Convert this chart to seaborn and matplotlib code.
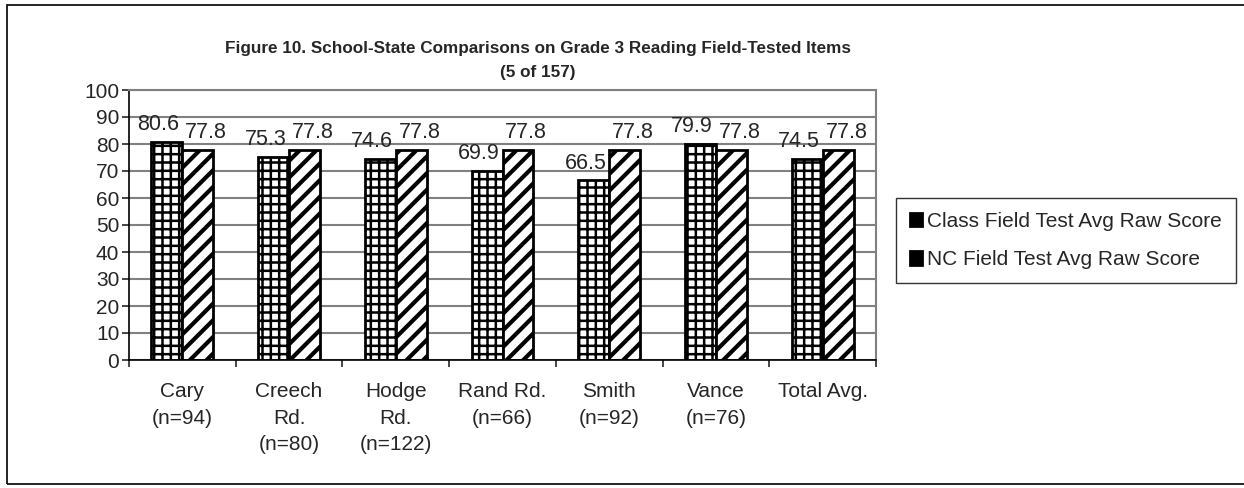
import numpy as np
import pandas as pd
import matplotlib
matplotlib.use('Agg')
import matplotlib.pyplot as plt
import seaborn as sns

# data
schools = ['Cary\n(n=94)', 'Creech\nRd.\n(n=80)', 'Hodge\nRd.\n(n=122)', 'Rand Rd.\n(n=66)',
           'Smith\n(n=92)', 'Vance\n(n=76)', 'Total Avg.']
class_avg = [80.6, 75.3, 74.6, 69.9, 66.5, 79.9, 74.5]
nc_avg = [77.8, 77.8, 77.8, 77.8, 77.8, 77.8, 77.8]
series = ['Class Field Test Avg Raw Score', 'NC Field Test Avg Raw Score']

df = pd.DataFrame({
    'school': schools * 2,
    'score': class_avg + nc_avg,
    'series': [series[0]] * len(schools) + [series[1]] * len(schools),
})

sns.set_style('white')
plt.rcParams['font.family'] = ['Liberation Sans', 'DejaVu Sans']
plt.rcParams['hatch.linewidth'] = 2.0

W, H = 1244, 488
fig = plt.figure(figsize=(W / 100, H / 100), dpi=100)
# plot area in pixels: x 129..876, y 90..360
ax = fig.add_axes([129 / W, 1 - 360 / H, 747 / W, 270 / H])

sns.barplot(data=df, x='school', y='score', hue='series', order=schools, hue_order=series,
            palette=['white', 'white'], width=0.58, gap=0, edgecolor='black', linewidth=2,
            saturation=1, ax=ax, legend=True)

hatches = ['++', '//']
hatch_lw = [1.8, 3.0]
shifts = [-6, 6]
for cont, h, hl, dx in zip(ax.containers, hatches, hatch_lw, shifts):
    for bar in cont:
        bar.set_hatch(h)
        bar.set_edgecolor('black')
        if hasattr(bar, 'set_hatch_linewidth'):
            bar.set_hatch_linewidth(hl)
    labels = ax.bar_label(cont, fmt='%.1f', padding=5, fontsize=15.5)
    for t in labels:
        t.xyann = (dx, t.xyann[1])

ax.set_ylim(0, 100)
ax.set_yticks(range(0, 101, 10))
ax.yaxis.grid(True, color='#808080', linewidth=1.5)
ax.set_axisbelow(True)
ax.set_xlabel('')
ax.set_ylabel('')
ax.set_xlim(-0.5, len(schools) - 0.5)
ax.set_xticks(np.arange(-0.5, len(schools)), minor=True)
ax.tick_params(axis='y', labelsize=15, direction='out', length=5, width=1.2, left=True, pad=2)
ax.tick_params(axis='x', which='major', labelsize=15, length=0, pad=16)
ax.tick_params(axis='x', which='minor', direction='out', length=5, width=1.2, bottom=True)
for t in ax.get_xticklabels():
    t.set_linespacing(1.5)
for s in ['top', 'right']:
    ax.spines[s].set_color('#808080')
    ax.spines[s].set_linewidth(1.5)
for s in ['left', 'bottom']:
    ax.spines[s].set_color('black')
    ax.spines[s].set_linewidth(1.2)

leg = ax.legend(loc='upper left', bbox_to_anchor=(896 / W, 1 - 198 / H),
                bbox_transform=fig.transFigure, frameon=True, fancybox=False,
                edgecolor='black', fontsize=15, handlelength=0.6, handleheight=0.6,
                handletextpad=0.25, borderpad=0.65, borderaxespad=0, labelspacing=0.95)
leg.get_frame().set_linewidth(1)
for p in leg.get_patches():
    p.set_facecolor('black')

fig.text(538 / W, 1 - 48 / H, 'Figure 10. School-State Comparisons on Grade 3 Reading Field-Tested Items',
         ha='center', va='center', fontsize=12.3, fontweight='bold')
fig.text(538 / W, 1 - 72 / H, '(5 of 157)', ha='center', va='center', fontsize=12.3, fontweight='bold')

# outer border (right edge falls outside the picture)
fig.patches.append(plt.Rectangle((7 / W, 4 / H), 1250 / W, 479 / H, transform=fig.transFigure,
                                 fill=False, edgecolor='black', linewidth=1.2))

fig.savefig('out.png', dpi=100)
